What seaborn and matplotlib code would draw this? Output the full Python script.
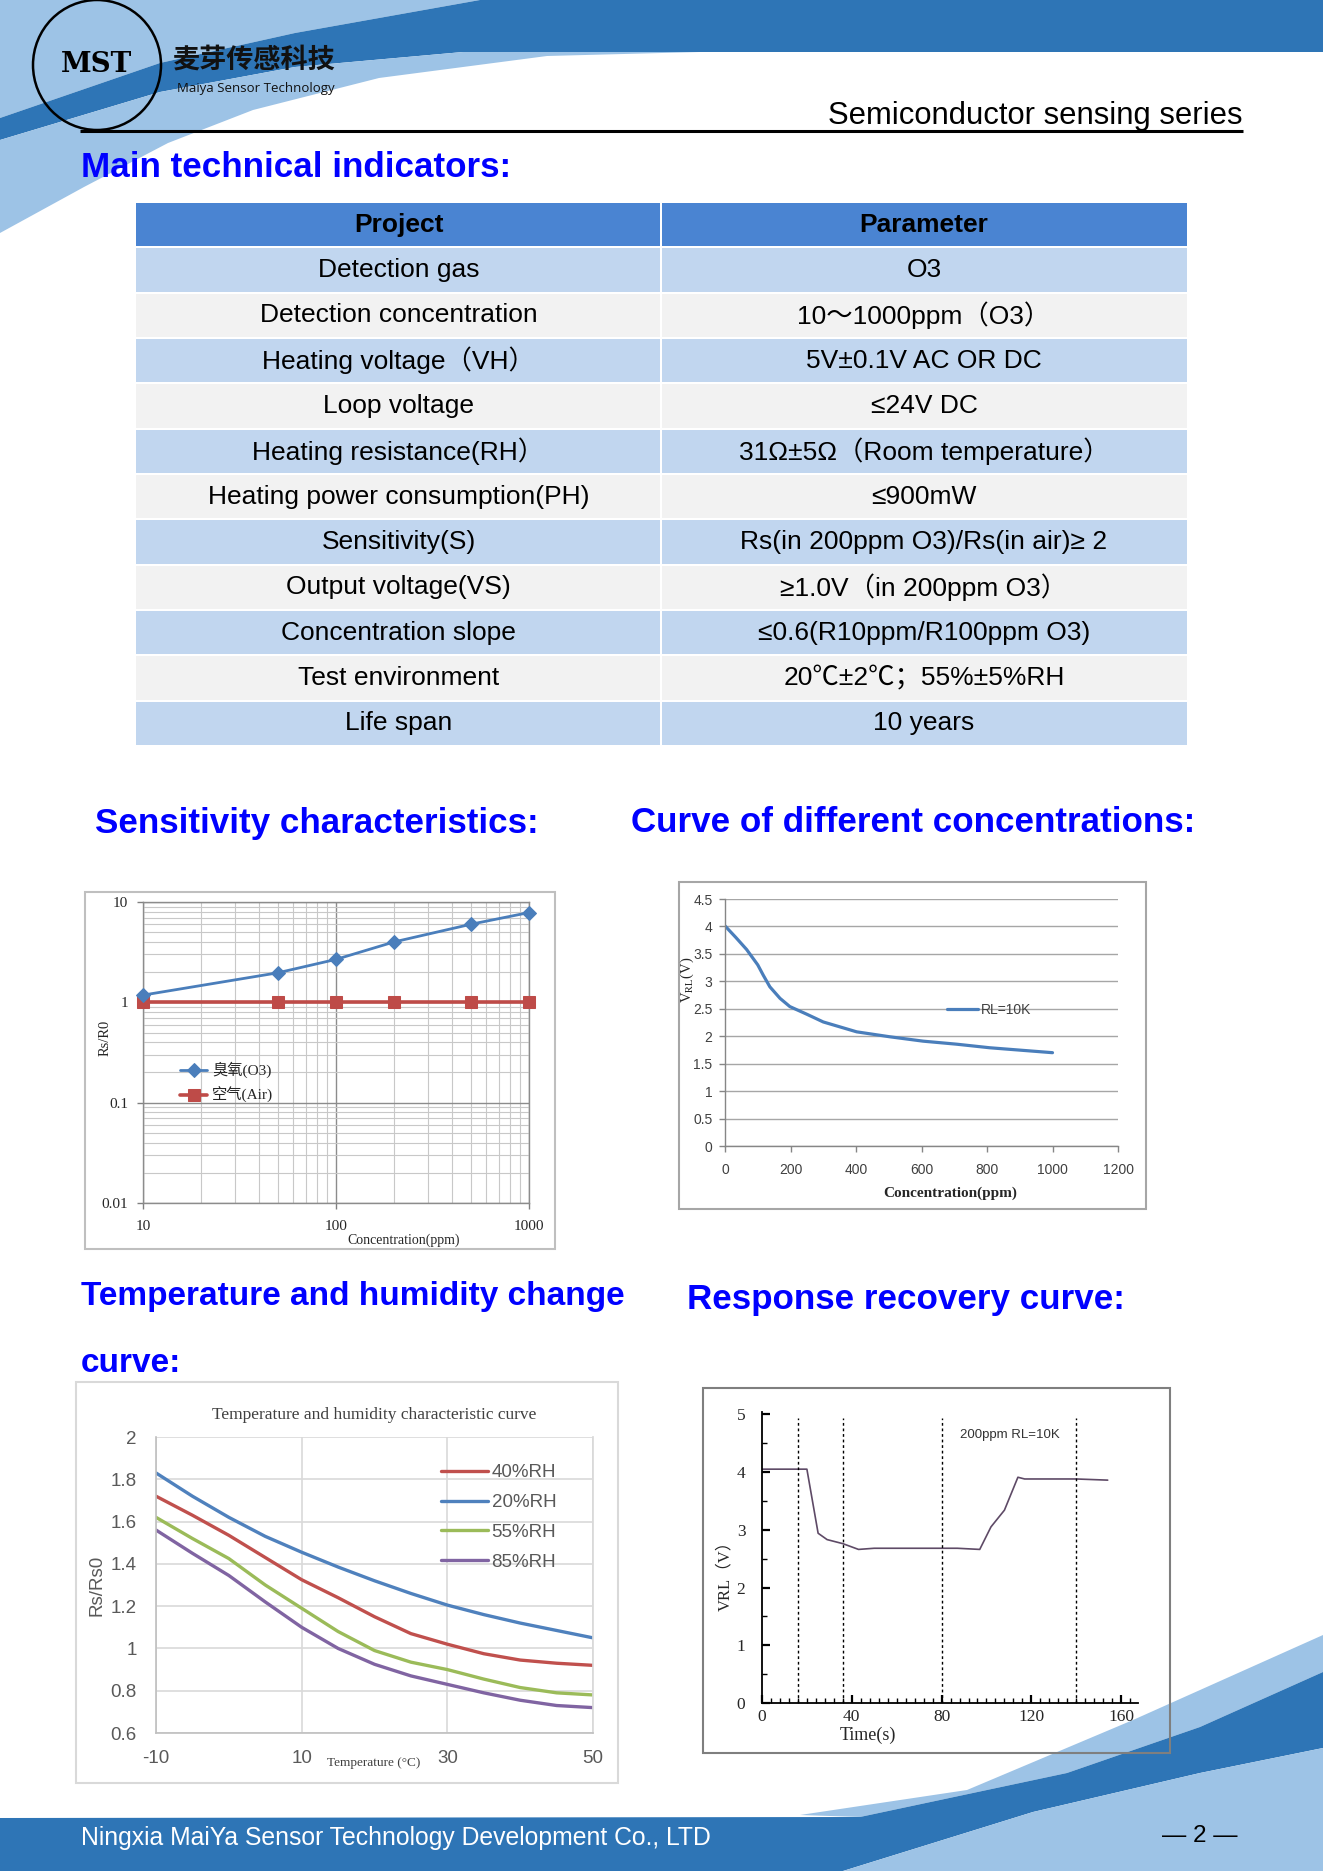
import matplotlib
matplotlib.use('Agg')
import matplotlib.pyplot as plt
from matplotlib.patches import Polygon, Rectangle, Ellipse
from matplotlib.ticker import MultipleLocator, NullFormatter
import pandas as pd
import seaborn as sns

# page size in pixels (figure is drawn at dpi=100)
W, H = 1323, 1871

SANS = ['Liberation Sans', 'Noto Sans CJK SC', 'DejaVu Sans']
SERIF = ['Liberation Serif', 'Noto Sans CJK SC', 'DejaVu Serif']
DARK_BLUE = '#2E75B6'
LIGHT_BLUE = '#9DC3E6'
HEAD_BLUE = '#0000FF'

# ---- technical indicators table ----
table_header = ['Project', 'Parameter']
table_projects = ['Detection gas', 'Detection concentration', 'Heating voltage（VH）',
                  'Loop voltage', 'Heating resistance(RH）', 'Heating power consumption(PH)',
                  'Sensitivity(S)', 'Output voltage(VS)', 'Concentration slope',
                  'Test environment', 'Life span']
table_params = ['O3', '10～1000ppm（O3）', '5V±0.1V AC OR DC', '≤24V DC',
                '31Ω±5Ω（Room temperature）', '≤900mW', 'Rs(in 200ppm O3)/Rs(in air)≥ 2',
                '≥1.0V（in 200ppm O3）', '≤0.6(R10ppm/R100ppm O3)',
                '20℃±2℃；55%±5%RH', '10 years']

# ---- sensitivity characteristics (log-log) ----
sens_conc = [10, 50, 100, 200, 500, 1000]
sens_o3 = [1.18, 1.97, 2.68, 4.0, 6.0, 7.85]
sens_air = [1.0, 1.0, 1.0, 1.0, 1.0, 1.0]
sens_xticks = [10, 100, 1000]
sens_yticks = [0.01, 0.1, 1, 10]
sens_ytick_labels = ['0.01', '0.1', '1', '10']

# ---- curve of different concentrations ----
curve_conc = [0, 33, 66, 100, 117, 137, 168, 198, 250, 300, 402, 503, 605, 707, 808, 1000]
curve_volt = [4.01, 3.80, 3.58, 3.30, 3.11, 2.90, 2.69, 2.54, 2.40, 2.26, 2.08, 1.99,
              1.91, 1.855, 1.79, 1.70]
curve_xticks = [0, 200, 400, 600, 800, 1000, 1200]
curve_yticks = [0, 0.5, 1, 1.5, 2, 2.5, 3, 3.5, 4, 4.5]
curve_ytick_labels = ['0', '0.5', '1', '1.5', '2', '2.5', '3', '3.5', '4', '4.5']

# ---- temperature and humidity ----
temps = [-10, -5, 0, 5, 10, 15, 20, 25, 30, 35, 40, 45, 50]
rh40 = [1.72, 1.63, 1.535, 1.43, 1.325, 1.24, 1.15, 1.07, 1.02, 0.975, 0.945, 0.93, 0.92]
rh20 = [1.83, 1.72, 1.62, 1.53, 1.455, 1.385, 1.32, 1.26, 1.205, 1.16, 1.12, 1.085, 1.05]
rh55 = [1.62, 1.52, 1.425, 1.30, 1.19, 1.08, 0.99, 0.935, 0.90, 0.855, 0.815, 0.79, 0.78]
rh85 = [1.56, 1.45, 1.345, 1.22, 1.10, 1.00, 0.925, 0.87, 0.83, 0.79, 0.755, 0.73, 0.72]
rh_labels = ['40%RH', '20%RH', '55%RH', '85%RH']
rh_colors = ['#C0504D', '#4F81BD', '#9BBB59', '#8064A2']
temp_xticks = [-10, 10, 30, 50]
temp_yticks = [0.6, 0.8, 1.0, 1.2, 1.4, 1.6, 1.8, 2.0]
temp_ytick_labels = ['0.6', '0.8', '1', '1.2', '1.4', '1.6', '1.8', '2']

# ---- response recovery ----
resp_time = [0, 16, 20, 25, 29, 36, 43, 50, 87, 97, 102, 108, 114, 117, 140, 154]
resp_volt = [4.05, 4.05, 4.05, 2.94, 2.83, 2.76, 2.66, 2.68, 2.68, 2.66, 3.05, 3.34,
             3.91, 3.88, 3.88, 3.86]
resp_marks = [16, 36, 80, 140]


def px_axes(fig, x0, y0, x1, y1):
    """Add an axes given its pixel box on the page (top-left origin)."""
    ax = fig.add_axes([x0 / W, 1 - y1 / H, (x1 - x0) / W, (y1 - y0) / H])
    ax.set_zorder(2)
    return ax


def set_tick_family(ax, family):
    for lbl in ax.get_xticklabels() + ax.get_yticklabels():
        lbl.set_family(family)


def draw_page(fig):
    """Header/footer decoration, headings, table and chart frames."""
    bg = fig.add_axes([0, 0, 1, 1])
    bg.set_xlim(0, W)
    bg.set_ylim(H, 0)
    bg.set_axis_off()
    bg.set_zorder(0)

    # header swoosh
    bg.add_patch(Polygon([(0, 0), (480, 0), (295, 33), (160, 63), (0, 118)],
                         color=LIGHT_BLUE, lw=0))
    bg.add_patch(Polygon([(480, 0), (W, 0), (W, 52), (463, 52), (295, 67), (160, 92),
                          (0, 140), (0, 118), (160, 63), (295, 33)],
                         color=DARK_BLUE, lw=0))
    bg.add_patch(Polygon([(0, 140), (160, 92), (295, 67), (463, 52), (700, 52), (547, 56),
                          (379, 78), (253, 110), (168, 143), (84, 187), (0, 233)],
                         color=LIGHT_BLUE, lw=0))

    # footer swoosh
    bg.add_patch(Polygon([(800, 1815), (967, 1790), (1133, 1720), (W, 1635), (W, 1672),
                          (1200, 1727), (1067, 1773), (860, 1817)],
                         color=LIGHT_BLUE, lw=0))
    bg.add_patch(Polygon([(0, 1818), (860, 1817), (1067, 1773), (1200, 1727), (W, 1672),
                          (W, 1748), (1200, 1773), (1033, 1812), (843, H), (0, H)],
                         color=DARK_BLUE, lw=0))
    bg.add_patch(Polygon([(843, H), (1033, 1812), (1200, 1773), (W, 1748), (W, H)],
                         color=LIGHT_BLUE, lw=0))

    # logo
    bg.add_patch(Ellipse((97, 65), 128, 130, fill=False, ec='black', lw=1.8))
    bg.text(97, 64, 'MST', ha='center', va='center', fontsize=20, fontweight='heavy',
            family='DejaVu Serif', color='black')
    bg.text(173, 60, '麦芽传感科技', ha='left', va='center', fontsize=19.5,
            fontweight='bold', family=['Noto Sans CJK SC'], color='#111111')
    bg.text(177, 88, 'Maiya Sensor Technology', ha='left', va='center', fontsize=9.5,
            family='Open Sans', color='#111111')

    bg.text(1242, 124, 'Semiconductor sensing series', ha='right', va='baseline',
            fontsize=22.3, family=SANS, color='black')
    bg.plot([80, 1243], [131, 131], color='black', lw=2.2, solid_capstyle='butt')

    # section headings
    headings = [(81, 167, 'Main technical indicators:', 25.2),
                (95, 823, 'Sensitivity characteristics:', 25.2),
                (631, 823, 'Curve of different concentrations:', 25.2),
                (81, 1296, 'Temperature and humidity change', 24),
                (81, 1364, 'curve:', 24),
                (687, 1300, 'Response recovery curve:', 25.2)]
    for x, y, s, size in headings:
        bg.text(x, y, s, ha='left', va='center', fontsize=size, fontweight='bold',
                family=SANS, color=HEAD_BLUE)

    # table
    x0, xm, x1 = 136, 661, 1187
    y0, row_h = 202, 45.33
    rows = [table_header] + [[p, v] for p, v in zip(table_projects, table_params)]
    for i, (left, right) in enumerate(rows):
        y = y0 + i * row_h
        if i == 0:
            color = '#4A84D2'
        elif i % 2 == 1:
            color = '#C1D6EF'
        else:
            color = '#F2F2F2'
        bg.add_patch(Rectangle((x0, y + 1), xm - x0 - 1, row_h - 2, color=color, lw=0))
        bg.add_patch(Rectangle((xm + 1, y + 1), x1 - xm - 1, row_h - 2, color=color, lw=0))
        weight = 'bold' if i == 0 else 'normal'
        bg.text((x0 + xm) / 2, y + row_h / 2, left, ha='center', va='center',
                fontsize=19, fontweight=weight, family=SANS, color='black')
        bg.text((xm + x1) / 2, y + row_h / 2, right, ha='center', va='center',
                fontsize=19, fontweight=weight, family=SANS, color='black')

    # chart frames
    frames = [((85, 892, 555, 1249), '#BFBFBF'),
              ((679, 882, 1146, 1209), '#A6A6A6'),
              ((76, 1382, 618, 1783), '#D9D9D9'),
              ((703, 1388, 1170, 1753), '#7F7F7F')]
    for (fx0, fy0, fx1, fy1), ec in frames:
        bg.add_patch(Rectangle((fx0, fy0), fx1 - fx0, fy1 - fy0, fill=False, ec=ec, lw=1.5))

    # footer text
    bg.text(81, 1838, 'Ningxia MaiYa Sensor Technology Development Co., LTD', ha='left',
            va='center', fontsize=17.8, family=SANS, color='white')
    bg.text(1200, 1836, '— 2 —', ha='center', va='center', fontsize=17.5,
            family=SANS, color='black')


def plot_sensitivity(fig):
    ax = px_axes(fig, 143, 902, 529, 1203)
    ax.set_xscale('log')
    ax.set_yscale('log')
    sns.lineplot(x=sens_conc, y=sens_o3, ax=ax, color='#4A7EBB', lw=2, marker='D',
                 markersize=7, markeredgecolor='#4A7EBB', label='臭氧(O3)',
                 clip_on=False, zorder=4)
    sns.lineplot(x=sens_conc, y=sens_air, ax=ax, color='#BE4B48', lw=2.6, marker='s',
                 markersize=9, markeredgecolor='#BE4B48', label='空气(Air)',
                 clip_on=False, zorder=3)
    ax.set_xlim(10, 1000)
    ax.set_ylim(0.01, 10)
    ax.set_xticks(sens_xticks, labels=[str(v) for v in sens_xticks])
    ax.set_yticks(sens_yticks, labels=sens_ytick_labels)
    ax.xaxis.set_minor_formatter(NullFormatter())
    ax.yaxis.set_minor_formatter(NullFormatter())
    ax.grid(True, which='major', color='#8C8C8C', lw=1.0)
    ax.grid(True, which='minor', color='#C8C8C8', lw=0.8)
    ax.tick_params(which='major', bottom=True, left=True, length=4, width=1,
                   color='#808080', labelsize=11, labelcolor='#262626')
    ax.tick_params(axis='x', which='major', pad=8)
    ax.tick_params(axis='y', which='major', pad=6.5)
    ax.tick_params(which='minor', bottom=False, left=False, length=0)
    for sp in ax.spines.values():
        sp.set_color('#8C8C8C')
        sp.set_linewidth(1)
    set_tick_family(ax, SERIF)
    ax.set_xlabel('')
    ax.set_ylabel('')
    ax.text(0.674, -0.123, 'Concentration(ppm)', transform=ax.transAxes, ha='center',
            va='center', fontsize=10, family=SERIF, color='#262626')
    ax.text(-0.098, 0.55, 'Rs/R0', transform=ax.transAxes, ha='center', va='center',
            rotation=90, fontsize=10.5, family=SERIF, color='#262626')
    ax.legend(loc='center left', bbox_to_anchor=(0.08, 0.40), borderaxespad=0,
              frameon=False, prop={'family': SERIF, 'size': 11}, handlelength=1.8,
              handletextpad=0.3, labelspacing=0.6)


def plot_concentration_curve(fig):
    ax = px_axes(fig, 725, 899, 1118, 1146)
    sns.lineplot(x=curve_conc, y=curve_volt, ax=ax, color='#4A7EBB', lw=2.3,
                 label='RL=10K')
    ax.set_xlim(0, 1200)
    ax.set_ylim(0, 4.5)
    ax.set_xticks(curve_xticks, labels=[str(v) for v in curve_xticks])
    ax.set_yticks(curve_yticks, labels=curve_ytick_labels)
    ax.yaxis.grid(True, color='#A6A6A6', lw=1)
    ax.xaxis.grid(False)
    ax.spines['top'].set_visible(False)
    ax.spines['right'].set_visible(False)
    for side in ['left', 'bottom']:
        ax.spines[side].set_color('#868686')
        ax.spines[side].set_linewidth(1)
    ax.tick_params(bottom=True, left=True, length=4, width=1, color='#868686',
                   labelsize=10, labelcolor='#404040')
    ax.tick_params(axis='x', pad=8)
    ax.tick_params(axis='y', pad=5)
    set_tick_family(ax, SANS)
    ax.set_xlabel('')
    ax.set_ylabel('')
    ax.text(0.573, -0.19, 'Concentration(ppm)', transform=ax.transAxes, ha='center',
            va='center', fontsize=11, fontweight='bold', family=SERIF, color='#262626')
    ax.text(-0.097, 0.672, r'V$_{\rm RL}$(V)', transform=ax.transAxes, ha='center',
            va='center', rotation=90, fontsize=10.5, family=SERIF, color='#262626')
    ax.legend(loc='center left', bbox_to_anchor=(0.551, 0.55), borderaxespad=0,
              frameon=False, fontsize=10, labelcolor='#404040', handlelength=2.2,
              handletextpad=0.2)


def plot_temperature(fig):
    ax = px_axes(fig, 156, 1437, 593, 1733)
    df = pd.DataFrame({
        'temp': temps * 4,
        'ratio': rh40 + rh20 + rh55 + rh85,
        'series': [lab for lab in rh_labels for _ in temps],
    })
    sns.lineplot(data=df, x='temp', y='ratio', hue='series', hue_order=rh_labels,
                 palette=rh_colors, lw=2.4, ax=ax)
    ax.set_xlim(-10, 50)
    ax.set_ylim(0.6, 2.0)
    ax.set_xticks(temp_xticks, labels=[str(v) for v in temp_xticks])
    ax.set_yticks(temp_yticks, labels=temp_ytick_labels)
    ax.grid(True, color='#D9D9D9', lw=1.2)
    ax.spines['top'].set_visible(False)
    ax.spines['right'].set_color('#D9D9D9')
    for side in ['left', 'bottom']:
        ax.spines[side].set_color('#BFBFBF')
        ax.spines[side].set_linewidth(1.2)
    ax.tick_params(length=0, labelsize=13.5, labelcolor='#595959')
    ax.tick_params(axis='x', pad=12.5)
    ax.tick_params(axis='y', pad=14)
    set_tick_family(ax, SANS)
    ax.set_xlabel('')
    ax.set_ylabel('')
    ax.set_title('Temperature and humidity characteristic curve', fontsize=12.5,
                 family=SERIF, color='#404040', pad=13)
    ax.text(-0.135, 0.5, 'Rs/Rs0', transform=ax.transAxes, ha='center', va='center',
            rotation=90, fontsize=13.5, family=SANS, color='#595959')
    ax.text(0.497, -0.10, 'Temperature (°C)', transform=ax.transAxes, ha='center',
            va='center', fontsize=9.5, family=SERIF, color='#404040')
    handles, labels = ax.get_legend_handles_labels()
    ax.legend(handles, labels, loc='center left', bbox_to_anchor=(0.635, 0.728),
              borderaxespad=0, frameon=False, fontsize=13.5, labelcolor='#595959',
              handlelength=2.5, handletextpad=0.2, labelspacing=0.68)


def plot_response(fig):
    ax = px_axes(fig, 762, 1412, 1138, 1703)
    sns.lineplot(x=resp_time, y=resp_volt, ax=ax, color='#5E4A66', lw=1.2)
    ax.vlines(resp_marks, 0, 4.93, colors='black', linestyles=(0, (2, 2)), lw=1)
    ax.set_xlim(0, 167.5)
    ax.set_ylim(0, 5.04)
    ax.xaxis.set_major_locator(MultipleLocator(40))
    ax.xaxis.set_minor_locator(MultipleLocator(4))
    ax.yaxis.set_major_locator(MultipleLocator(1))
    ax.yaxis.set_minor_locator(MultipleLocator(0.5))
    ax.grid(False)
    ax.spines['top'].set_visible(False)
    ax.spines['right'].set_visible(False)
    for side in ['left', 'bottom']:
        ax.spines[side].set_color('black')
        ax.spines[side].set_linewidth(1.3)
    ax.tick_params(which='major', direction='in', bottom=True, left=True, length=6,
                   width=1.6, color='black', labelsize=12.5, labelcolor='#262626')
    ax.tick_params(which='minor', direction='in', bottom=True, left=True, length=3.5,
                   width=1, color='black')
    ax.tick_params(axis='x', which='major', pad=4.5)
    ax.tick_params(axis='y', which='major', pad=12)
    set_tick_family(ax, SERIF)
    ax.set_xlabel('')
    ax.set_ylabel('')
    ax.text(0.282, -0.111, 'Time(s)', transform=ax.transAxes, ha='center', va='center',
            fontsize=13, family=SERIF, color='#262626')
    ax.text(-0.098, 0.45, 'VRL（V）', transform=ax.transAxes, ha='center', va='center',
            rotation=90, fontsize=12, family=SERIF, color='#262626')
    ax.text(88, 4.64, '200ppm RL=10K', ha='left', va='center', fontsize=9.5,
            family=SANS, color='#333333')


sns.set_theme(style='white')
plt.rcParams['font.family'] = SANS
plt.rcParams['mathtext.fontset'] = 'stix'

fig = plt.figure(figsize=(W / 100, H / 100), dpi=100)
fig.patch.set_facecolor('white')
draw_page(fig)
plot_sensitivity(fig)
plot_concentration_curve(fig)
plot_temperature(fig)
plot_response(fig)
fig.savefig('out.png', dpi=100, facecolor='white')
